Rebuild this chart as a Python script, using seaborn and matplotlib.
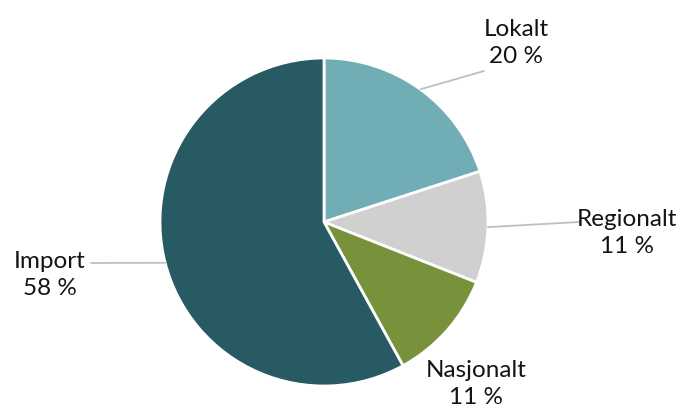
import matplotlib.pyplot as plt
import numpy as np
import seaborn as sns


CATEGORIES = ["Lokalt", "Regionalt", "Nasjonalt", "Import"]
SHARES = [20, 11, 11, 58]
COLORS = ["#71adb5", "#d0d0d0", "#77923b", "#275a63"]

# label centres and leader line ends, in pixel units of the canvas
LABEL_POS = {
    "Lokalt": (516, 374),
    "Regionalt": (627, 184),
    "Nasjonalt": (476, 33),
    "Import": (50, 142),
}
LEADER_END = {
    "Lokalt": (484, 346),
    "Regionalt": (579, 195),
    "Import": (91, 154),
}
CENTER = (324, 195)
RADIUS = 164


def main() -> None:
    sns.set_theme(style="white")
    plt.rcParams["font.family"] = ["Lato", "DejaVu Sans"]

    fig = plt.figure(figsize=(7, 4.17), dpi=100)
    ax = fig.add_axes([0, 0, 1, 1])

    wedges, _ = ax.pie(
        SHARES,
        colors=COLORS,
        startangle=90,
        counterclock=False,
        center=CENTER,
        radius=RADIUS,
        wedgeprops={"edgecolor": "white", "linewidth": 2},
        frame=True,
    )
    ax.set_xlim(0, 700)
    ax.set_ylim(0, 417)
    ax.set_aspect("equal")
    ax.axis("off")

    for wedge, name, share in zip(wedges, CATEGORIES, SHARES):
        mid = np.deg2rad((wedge.theta1 + wedge.theta2) / 2)
        edge = (CENTER[0] + RADIUS * np.cos(mid), CENTER[1] + RADIUS * np.sin(mid))
        if name in LEADER_END:
            ax.annotate(
                "",
                xy=edge,
                xytext=LEADER_END[name],
                arrowprops=dict(arrowstyle="-", color="#bfbfbf", lw=1.3,
                                shrinkA=0, shrinkB=0),
            )
        x, y = LABEL_POS[name]
        ax.text(x, y, f"{name}\n{share} %", ha="center", va="center",
                fontsize=17.5, color="#141414", linespacing=1.38)

    fig.savefig("out.png", dpi=100, facecolor="white")
    plt.close(fig)


if __name__ == "__main__":
    main()
